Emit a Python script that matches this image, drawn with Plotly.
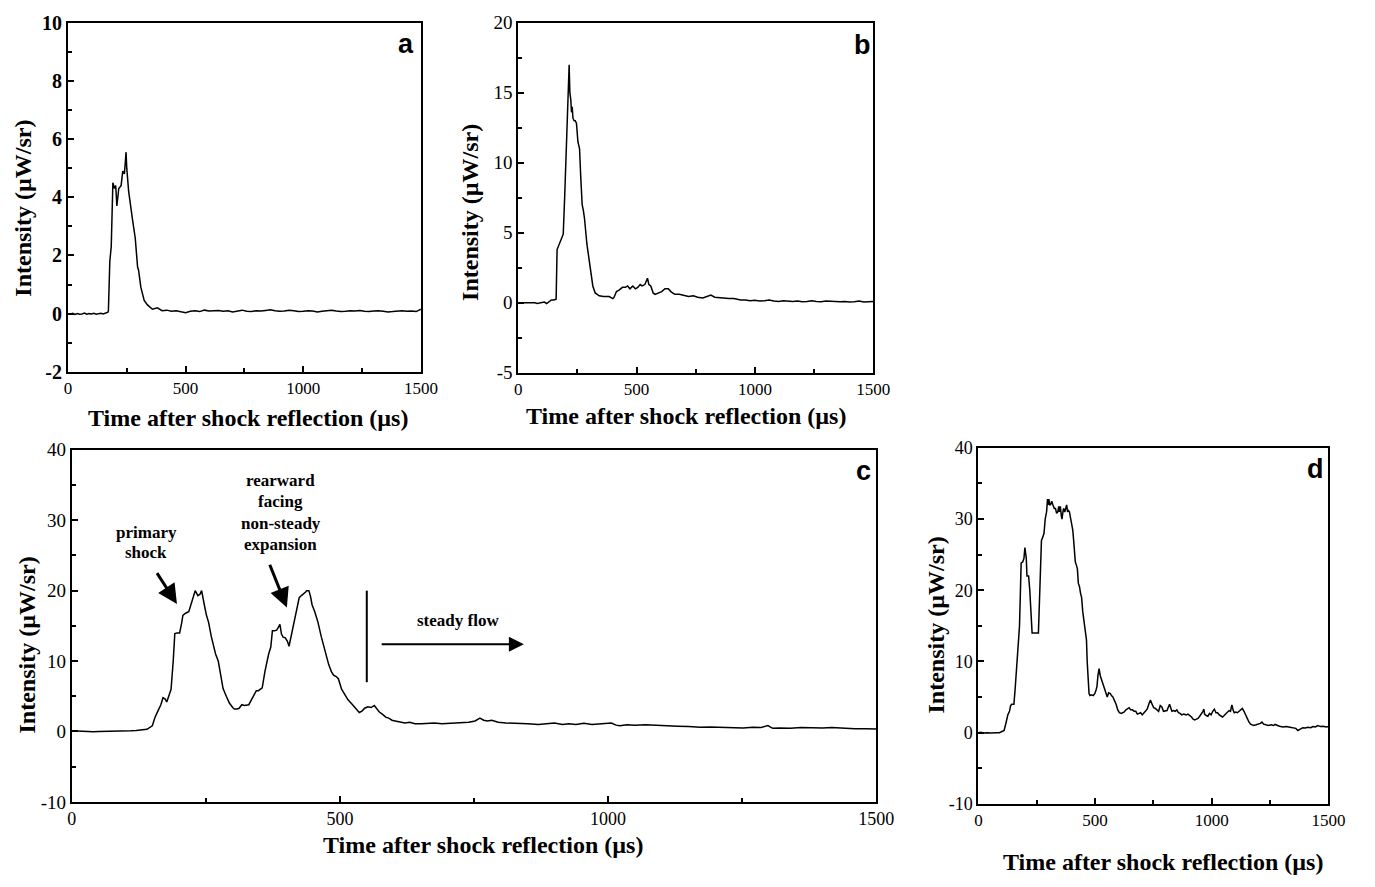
import plotly.graph_objects as go

# ---------------- data ----------------
# Panel a
A_TIME = ([0, 10, 20, 30, 40, 50, 60, 70, 80, 90,
           100, 110, 120, 130, 140, 150, 160, 170]
          + [172, 178, 184, 191, 198, 203, 208, 216, 226, 233,
             240, 247, 250, 258, 275, 286, 296, 300, 310, 324,
             338, 359, 380]
          + list(range(400, 1501, 20)))
A_INT = ([0.0, -0.02, 0.01, -0.03, 0.0, -0.02, -0.01, 0.02, -0.02, 0.0,
          -0.01, 0.01, -0.02, 0.0, 0.01, -0.01, 0.02, 0.05]
         + [0.1, 1.8, 2.3, 4.5, 4.3, 4.4, 3.7, 4.3, 4.4, 4.9,
            4.8, 5.55, 5.0, 4.2, 3.2, 2.6, 1.6, 1.5, 0.9, 0.45,
            0.3, 0.15, 0.2]
         + [0.10, 0.12, 0.08, 0.10, 0.06, 0.03, 0.08, 0.10, 0.07, 0.12,
            0.09, 0.10, 0.11, 0.08, 0.10, 0.06, 0.09, 0.12, 0.08, 0.07,
            0.10, 0.09, 0.11, 0.13, 0.10, 0.08, 0.09, 0.12, 0.10, 0.07,
            0.08, 0.10, 0.09, 0.06, 0.08, 0.10, 0.12, 0.09, 0.07, 0.08,
            0.10, 0.09, 0.11, 0.08, 0.07, 0.09, 0.10, 0.08, 0.06, 0.07,
            0.09, 0.10, 0.08, 0.09, 0.07, 0.15])

# Panel b
B_TIME = ([0, 10, 20, 30, 40, 50, 60, 70, 80, 90,
           100, 110, 120, 130, 140, 150, 160]
          + [164, 169, 176, 183, 190, 196, 201, 206, 211, 215,
             218, 222, 225, 228, 231, 236, 241, 246, 252, 259,
             264, 270, 275, 280, 290, 301, 308, 315, 325, 342,
             360, 384, 400, 405, 415, 426, 440, 453, 462, 472,
             484, 495, 505, 515, 523, 535, 546, 552, 560, 570,
             578, 590, 606, 620, 634, 645, 661, 680, 703, 720,
             740, 758, 780, 800, 814, 830, 850, 869, 890, 911,
             940]
          + list(range(960, 1501, 20)))
B_INT = ([0.0, 0.0, -0.02, 0.0, 0.01, 0.0, -0.01, 0.0, -0.05, -0.03,
          0.0, 0.05, -0.05, 0.1, 0.2, 0.2, 0.25]
         + [3.8, 4.0, 4.3, 4.7, 4.9, 7.5, 10.0, 13.0, 15.0, 17.0,
            15.0, 14.5, 13.6, 14.0, 13.2, 13.0, 13.0, 12.8, 11.5, 11.0,
            9.0, 7.0, 6.6, 6.0, 4.2, 3.0, 2.0, 1.2, 0.7, 0.5,
            0.45, 0.45, 0.3, 0.4, 0.8, 0.9, 1.1, 1.1, 1.2, 1.0,
            1.2, 1.0, 1.1, 1.3, 1.2, 1.3, 1.75, 1.3, 1.2, 0.7,
            0.6, 0.7, 0.8, 1.0, 1.0, 0.8, 0.6, 0.6, 0.5, 0.45,
            0.5, 0.4, 0.35, 0.5, 0.55, 0.4, 0.35, 0.35, 0.3, 0.3,
            0.2]
         + [0.2, 0.15, 0.18, 0.12, 0.15, 0.2, 0.12, 0.1, 0.15, 0.12,
            0.1, 0.12, 0.08, 0.1, 0.15, 0.1, 0.08, 0.12, 0.1, 0.05,
            0.08, 0.1, 0.06, 0.08, 0.12, 0.05, 0.08, 0.1])

# Panel c
C_TIME = [0, 10, 20, 30, 40, 50, 60, 70, 80, 90,
          100, 110, 120, 130, 140, 150, 155, 161, 166, 170,
          174, 177, 181, 185, 189, 192, 196, 201, 205, 207,
          212, 218, 224, 230, 235, 239, 242, 245, 247, 251,
          255, 260, 264, 268, 273, 278, 282, 288, 294, 300,
          303, 308, 312, 317, 322, 330, 335, 339, 344, 348,
          355, 360, 364, 367, 371, 374, 378, 382, 385, 388,
          391, 394, 398, 402, 405, 409, 414, 419, 424, 428,
          432, 436, 438, 442, 445, 448, 453, 459, 465, 470,
          475, 479, 484, 488, 493, 497, 503, 509, 515, 521,
          527, 532, 536, 541, 546, 552, 558, 564, 568, 573,
          580, 586, 591, 597, 603, 612, 621, 630, 640, 652,
          664, 676, 690, 709, 725, 740, 752, 761, 768, 775,
          783, 795, 810, 835, 850, 870, 885, 900, 915, 927,
          940, 955, 970, 985, 1000, 1006, 1015, 1022, 1035, 1050,
          1070, 1090, 1110, 1130, 1150, 1172, 1190, 1210, 1230, 1252,
          1270, 1285, 1298, 1307, 1320, 1340, 1360, 1380, 1400, 1417,
          1440, 1460, 1480, 1500]
C_INT = [0.1, 0.05, 0.0, 0.0, -0.05, 0.0, 0.0, 0.05, 0.0, 0.05,
         0.1, 0.1, 0.15, 0.2, 0.3, 0.8, 2.0, 3.0, 3.8, 4.8,
         4.6, 4.2, 5.0, 6.0, 10.0, 13.9, 14.0, 14.0, 15.5, 16.5,
         16.8, 17.0, 18.5, 20.0, 19.3, 19.5, 20.0, 19.0, 18.0, 16.5,
         15.5, 13.5, 12.0, 11.0, 10.0, 8.0, 6.1, 5.0, 4.0, 3.4,
         3.2, 3.2, 3.3, 3.8, 3.7, 3.8, 4.5, 5.0, 5.8, 5.8,
         6.2, 8.5, 10.0, 11.0, 12.0, 14.3, 14.3, 14.4, 14.8, 15.2,
         13.8, 13.4, 13.3, 12.8, 12.1, 13.5, 15.0, 17.0, 19.0, 19.3,
         19.5, 19.8, 20.0, 20.0, 19.2, 18.0, 17.0, 15.5, 13.5, 12.0,
         10.5, 9.5, 8.5, 8.0, 7.8, 7.5, 6.0, 5.2, 4.5, 4.0,
         3.5, 3.0, 2.7, 2.9, 3.3, 3.5, 3.4, 3.7, 3.3, 2.8,
         2.4, 2.0, 1.9, 1.6, 1.5, 1.4, 1.2, 1.3, 1.1, 1.1,
         1.2, 1.2, 1.1, 1.15, 1.2, 1.3, 1.5, 1.9, 1.6, 1.5,
         1.6, 1.3, 1.2, 1.2, 1.1, 1.0, 1.1, 1.2, 1.0, 1.1,
         1.0, 1.15, 1.0, 1.1, 1.2, 1.2, 0.9, 0.8, 0.95, 0.9,
         0.95, 0.85, 0.85, 0.75, 0.7, 0.6, 0.65, 0.6, 0.55, 0.5,
         0.6, 0.55, 0.85, 0.45, 0.5, 0.45, 0.55, 0.5, 0.5, 0.55,
         0.45, 0.4, 0.4, 0.35]

# Panel d
D_TIME = [0, 10, 20, 30, 40, 50, 60, 70, 80, 90,
          100, 110, 119, 126, 133, 138, 143, 152, 157, 161,
          165, 169, 173, 176, 180, 183, 190, 195, 199, 202,
          205, 208, 215, 220, 225, 230, 236, 250, 257, 260,
          263, 267, 270, 276, 281, 286, 292, 296, 298, 302,
          305, 309, 314, 319, 325, 330, 335, 340, 344, 347,
          351, 355, 358, 362, 365, 370, 374, 378, 382, 386,
          390, 395, 400, 404, 408, 411, 415, 420, 424, 428,
          433, 438, 442, 447, 454, 458, 463, 466, 470, 474,
          478, 485, 492, 499, 504, 508, 512, 517, 522, 527,
          534, 541, 547, 552, 558, 565, 570, 576, 583, 590,
          597, 604, 612, 618, 625, 632, 640, 646, 652, 660,
          667, 674, 681, 688, 695, 702, 709, 716, 723, 730,
          737, 744, 751, 758, 765, 772, 779, 786, 793, 800,
          808, 814, 819, 824, 829, 836, 843, 850, 857, 864,
          871, 880, 890, 898, 906, 913, 920, 927, 934, 941,
          948, 955, 962, 966, 969, 976, 983, 990, 997, 1004,
          1011, 1018, 1025, 1032, 1039, 1046, 1053, 1060, 1067, 1074,
          1080, 1086, 1091, 1096, 1103, 1110, 1117, 1124, 1131, 1138,
          1145, 1152, 1159, 1166, 1173, 1180, 1190, 1200, 1208, 1215,
          1222, 1232, 1243, 1255, 1264, 1271, 1280, 1290, 1306, 1320,
          1335, 1348, 1360, 1369, 1378, 1390, 1400, 1412, 1424, 1433,
          1444, 1454, 1466, 1478, 1490, 1500]
D_INT = [0.0, 0.05, -0.05, 0.0, 0.0, -0.05, 0.0, 0.05, 0.0, 0.0,
         0.1, 0.3, 1.5, 2.5, 3.0, 3.8, 4.0, 4.0, 6.0, 7.8,
         10.0, 12.0, 13.0, 15.0, 20.0, 23.8, 24.0, 24.5, 26.0, 25.0,
         24.5, 22.0, 22.0, 20.0, 17.0, 14.0, 14.0, 14.0, 14.0, 17.0,
         20.0, 25.0, 27.0, 27.5, 28.0, 30.0, 31.0, 32.8, 32.0, 32.8,
         32.0, 32.0, 32.5, 32.0, 31.5, 31.5, 30.8, 31.0, 31.8, 31.0,
         31.8, 30.5, 30.0, 31.0, 31.5, 31.0, 31.5, 32.0, 31.0, 31.2,
         31.0, 30.0, 29.0, 28.5, 27.0, 26.0, 24.0, 23.5, 23.0, 21.0,
         20.5, 19.5, 19.0, 17.0, 15.5, 14.5, 13.0, 10.0, 7.0, 5.5,
         5.2, 5.3, 5.2, 5.5, 6.0, 6.5, 8.0, 9.0, 8.0, 7.5,
         6.5, 6.0, 5.5, 5.0, 5.6, 5.5, 5.2, 5.0, 4.5, 4.0,
         3.2, 2.8, 2.7, 2.8, 2.9, 3.2, 3.4, 3.5, 3.2, 3.2,
         3.0, 3.0, 2.6, 2.7, 2.8, 2.5, 2.8, 3.0, 3.3, 4.0,
         4.6, 4.0, 3.5, 3.4, 3.2, 3.0, 3.8, 3.6, 3.0, 3.0,
         3.1, 3.6, 4.0, 3.5, 3.0, 3.1, 3.0, 3.2, 2.8, 2.7,
         2.5, 2.6, 2.5, 2.6, 2.4, 2.2, 1.9, 1.8, 1.9, 2.0,
         2.3, 2.6, 3.0, 3.3, 2.6, 2.4, 2.3, 2.7, 2.5, 3.0,
         3.3, 2.8, 2.8, 2.5, 2.4, 2.2, 2.4, 2.6, 2.8, 3.1,
         3.0, 3.9, 3.2, 2.8, 2.9, 2.8, 3.0, 3.2, 3.4, 3.0,
         2.6, 2.0, 1.5, 1.2, 1.1, 1.0, 1.1, 1.2, 1.3, 1.5,
         1.2, 1.1, 1.0, 1.1, 1.0, 1.15, 1.0, 0.9, 0.8, 0.85,
         0.75, 0.7, 0.6, 0.3, 0.5, 0.7, 0.65, 0.75, 0.7, 0.85,
         0.8, 1.0, 0.85, 0.9, 0.8, 0.85]

for t, v in ((A_TIME, A_INT), (B_TIME, B_INT), (C_TIME, C_INT), (D_TIME, D_INT)):
    assert len(t) == len(v), (len(t), len(v))

X_TICKS = [0, 500, 1000, 1500]
X_LABELS = ["0", "500", "1000", "1500"]
A_YTICKS = [-2, 0, 2, 4, 6, 8, 10]
A_YLABELS = ["-2", "0", "2", "4", "6", "8", "10"]
B_YTICKS = [-5, 0, 5, 10, 15, 20]
B_YLABELS = ["-5", "0", "5", "10", "15", "20"]
CD_YTICKS = [-10, 0, 10, 20, 30, 40]
CD_YLABELS = ["-10", "0", "10", "20", "30", "40"]

X_TITLE = "Time after shock reflection (µs)"
Y_TITLE = "Intensity (µW/sr)"
PANEL_LABELS = ["a", "b", "c", "d"]
NOTE_PRIMARY = ["primary", "shock"]
NOTE_REARWARD = ["rearward", "facing", "non-steady", "expansion"]
NOTE_STEADY = "steady flow"

# ---------------- figure ----------------
W, H = 1375, 887
SERIF = "Liberation Serif, Times New Roman, serif"
SANS = "Liberation Sans, Arial, sans-serif"


def px_x(p):
    return p / W


def px_y(p):
    return 1 - p / H


fig = go.Figure()
line_style = dict(color="black", width=1.5)
for i, (t, v) in enumerate(((A_TIME, A_INT), (B_TIME, B_INT), (C_TIME, C_INT), (D_TIME, D_INT))):
    sfx = "" if i == 0 else str(i + 1)
    fig.add_trace(go.Scatter(x=t, y=v, mode="lines", line=line_style,
                             xaxis="x" + sfx, yaxis="y" + sfx, showlegend=False,
                             hoverinfo="skip"))

common = dict(showline=True, linecolor="black", linewidth=2, mirror=True,
              ticks="inside", ticklen=6, tickwidth=2, tickcolor="black",
              showgrid=False, zeroline=False)

domains = {
    "a": ([64, 423], [12, 370]),
    "b": ([522, 883], [12, 371]),
    "c": ([68, 886], [450, 811]),
    "d": ([990, 1346], [448, 813]),
}
yspec = {
    "a": ([-2, 10], A_YTICKS, A_YLABELS, 1, "bold", 20),
    "b": ([-5, 20], B_YTICKS, B_YLABELS, 2.5, "normal", 19),
    "c": ([-10, 40], CD_YTICKS, CD_YLABELS, 5, "normal", 19),
    "d": ([-10, 40], CD_YTICKS, CD_YLABELS, 5, "normal", 18),
}
layout_axes = {}
for i, key in enumerate("abcd"):
    sfx = "" if i == 0 else str(i + 1)
    (x0, x1), (y0, y1) = domains[key]
    yr, yt, yl, ymin, yweight, ysize = yspec[key]
    layout_axes["xaxis" + sfx] = dict(
        common, domain=[px_x(x0), px_x(x1)], range=[0, 1500], anchor="y" + sfx,
        tickmode="array", tickvals=X_TICKS, ticktext=X_LABELS,
        tickfont=dict(family=SERIF, size=18 if key == "c" else 17, color="black"),
        minor=dict(ticks="inside", ticklen=4, tickwidth=1.5, tickcolor="black",
                   tickmode="linear", tick0=0, dtick=250))
    layout_axes["yaxis" + sfx] = dict(
        common, domain=[px_y(y1), px_y(y0)], range=yr, anchor="x" + sfx,
        tickmode="array", tickvals=yt, ticktext=yl,
        tickfont=dict(family=SERIF, size=ysize, color="black", weight=yweight),
        minor=dict(ticks="inside", ticklen=4, tickwidth=1.5, tickcolor="black",
                   tickmode="linear", tick0=0, dtick=ymin))

annotations = []
title_font = dict(family=SERIF, size=24, color="black", weight="bold")
for (cx, cy) in [(247, 417), (693, 415), (486, 855), (1178, 873)]:
    annotations.append(dict(text=X_TITLE, x=px_x(cx), y=px_y(cy), xref="paper", yref="paper",
                            xanchor="center", yanchor="middle", showarrow=False, font=title_font))
for (cx, cy) in [(18, 202), (473, 207), (22, 650), (947, 630)]:
    annotations.append(dict(text=Y_TITLE, x=px_x(cx), y=px_y(cy), xref="paper", yref="paper",
                            xanchor="center", yanchor="middle", showarrow=False, textangle=-90,
                            font=title_font))
letter_font = dict(family=SANS, size=27, color="black", weight="bold")
for lab, (cx, cy) in zip(PANEL_LABELS, [(408, 34), (872, 35), (873, 472), (1333, 470)]):
    annotations.append(dict(text=lab, x=px_x(cx), y=px_y(cy), xref="paper", yref="paper",
                            xanchor="center", yanchor="middle", showarrow=False, font=letter_font))

note_font = dict(family=SERIF, size=17, color="black", weight="bold")
for txt, yy in zip(NOTE_PRIMARY, [28.3, 25.4]):
    annotations.append(dict(text=txt, x=139, y=yy, xref="x3", yref="y3", showarrow=False,
                            font=note_font, xanchor="center", yanchor="middle"))
for txt, yy in zip(NOTE_REARWARD, [35.6, 32.6, 29.6, 26.6]):
    annotations.append(dict(text=txt, x=390, y=yy, xref="x3", yref="y3", showarrow=False,
                            font=note_font, xanchor="center", yanchor="middle"))
annotations += [
    dict(text=NOTE_STEADY, x=720, y=15.8, xref="x3", yref="y3", showarrow=False,
         font=note_font, xanchor="center", yanchor="middle"),
    dict(text="", x=196, y=18.1, ax=157, ay=22.7, xref="x3", yref="y3", axref="x3", ayref="y3",
         showarrow=True, arrowhead=2, arrowsize=1.3, arrowwidth=3, arrowcolor="black"),
    dict(text="", x=401, y=17.6, ax=368, ay=23.9, xref="x3", yref="y3", axref="x3", ayref="y3",
         showarrow=True, arrowhead=2, arrowsize=1.3, arrowwidth=3, arrowcolor="black"),
    dict(text="", x=843, y=12.4, ax=575, ay=12.4, xref="x3", yref="y3", axref="x3", ayref="y3",
         showarrow=True, arrowhead=2, arrowsize=1.5, arrowwidth=2, arrowcolor="black"),
]

shapes = [dict(type="line", xref="x3", yref="y3", x0=550, x1=550, y0=7, y1=20,
               line=dict(color="black", width=2))]

fig.update_layout(width=W, height=H, margin=dict(l=0, r=0, t=0, b=0),
                  paper_bgcolor="white", plot_bgcolor="white",
                  annotations=annotations, shapes=shapes, **layout_axes)

fig.write_html("out.html", config={"displayModeBar": False},
               post_script="document.body.style.margin='0';")
